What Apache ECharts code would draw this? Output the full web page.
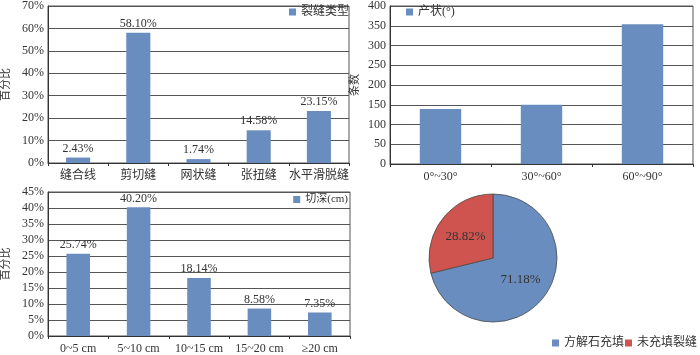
<!DOCTYPE html>
<html>
<head>
<meta charset="utf-8">
<script src="https://cdn.jsdelivr.net/npm/echarts@6/dist/echarts.min.js"></script>
<style>
  html, body { margin: 0; padding: 0; background: #fff; }
  #main { width: 700px; height: 355px; }
</style>
</head>
<body>
<div id="main"></div>
<script>
// 裂缝类型
const typeCats = ['缝合线', '剪切缝', '网状缝', '张扭缝', '水平滑脱缝'];
const typeVals = [2.43, 58.10, 1.74, 14.58, 23.15];
// 产状
const dipCats = ['0°~30°', '30°~60°', '60°~90°'];
const dipVals = [139, 150, 354];
// 切深
const depthCats = ['0~5 cm', '5~10 cm', '10~15 cm', '15~20 cm', '≥20 cm'];
const depthVals = [25.74, 40.20, 18.14, 8.58, 7.35];
// 充填
const fillNames = ['方解石充填', '未充填裂缝'];
const fillVals = [71.18, 28.82];

const blue = '#6a8dbf';
const red = '#cf5450';
const font = '"Liberation Serif", "Noto Sans CJK SC", serif';
const txt = '#333';

const chart = echarts.init(document.getElementById('main'));

function xAxisOf(idx, cats) {
  return {
    type: 'category', gridIndex: idx, data: cats,
    axisLine: { lineStyle: { color: '#333' } },
    axisTick: { show: true, length: 3, lineStyle: { color: '#333' } },
    axisLabel: { color: txt, fontFamily: font, fontSize: 12, margin: 7, interval: 0 }
  };
}
function yAxisOf(idx, max, step, fmt, name, gap) {
  return {
    type: 'value', gridIndex: idx, min: 0, max: max, interval: step,
    name: name, nameLocation: 'middle', nameGap: gap,
    nameTextStyle: { color: txt, fontFamily: font, fontSize: 11 },
    axisLine: { show: true, lineStyle: { color: '#333' } },
    axisTick: { show: false },
    axisLabel: { color: txt, fontFamily: font, fontSize: 12, margin: 4, formatter: fmt },
    splitLine: { lineStyle: { color: '#555', width: 1 } }
  };
}
const legendBase = {
  itemWidth: 7, itemHeight: 7, icon: 'rect', padding: 0,
  itemStyle: { borderWidth: 0 },
  textStyle: { color: txt, fontFamily: font, fontSize: 12 }
};

chart.setOption({
  animation: false,
  grid: [
    { left: 41, top: 2, width: 308, height: 161, show: true, borderColor: '#555', borderWidth: 1 },
    { left: 390, top: 2, width: 303, height: 162, show: true, borderColor: '#555', borderWidth: 1 },
    { left: 41, top: 192, width: 309, height: 149, show: true, borderColor: '#555', borderWidth: 1 }
  ],
  xAxis: [xAxisOf(0, typeCats), xAxisOf(1, dipCats), xAxisOf(2, depthCats)],
  yAxis: [
    yAxisOf(0, 70, 10, '{value}%', '百分比', 36),
    yAxisOf(1, 400, 50, '{value}', '条数', 29),
    yAxisOf(2, 45, 5, '{value}%', '百分比', 36)
  ],
  legend: [
    Object.assign({}, legendBase, { data: ['裂缝类型'], left: 289, top: 6 }),
    Object.assign({}, legendBase, { data: ['产状(°)'], left: 406, top: 6 }),
    Object.assign({}, legendBase, { data: ['切深(cm)'], right: 352, top: 194,
      textStyle: { color: txt, fontFamily: font, fontSize: 11 } }),
    Object.assign({}, legendBase, { data: [fillNames[0]], left: 552, top: 337 }),
    Object.assign({}, legendBase, { data: [fillNames[1]], left: 625, top: 337 })
  ],
  series: [
    {
      name: '裂缝类型', type: 'bar', xAxisIndex: 0, yAxisIndex: 0, data: typeVals,
      barWidth: '40%', itemStyle: { color: blue },
      label: { show: true, position: 'top', distance: 3, color: txt, fontFamily: font, fontSize: 12,
        formatter: p => p.value.toFixed(2) + '%' }
    },
    {
      name: '产状(°)', type: 'bar', xAxisIndex: 1, yAxisIndex: 1, data: dipVals,
      barWidth: '41%', itemStyle: { color: blue }
    },
    {
      name: '切深(cm)', type: 'bar', xAxisIndex: 2, yAxisIndex: 2, data: depthVals,
      barWidth: '39%', itemStyle: { color: blue },
      label: { show: true, position: 'top', distance: 3, color: txt, fontFamily: font, fontSize: 12,
        formatter: p => p.value.toFixed(2) + '%' }
    },
    {
      type: 'pie', center: [493, 258], radius: 64, startAngle: 90, clockwise: true,
      data: fillNames.map((n, i) => ({ name: n, value: fillVals[i], itemStyle: { color: i === 0 ? blue : red } })),
      itemStyle: { borderColor: '#4a4a4a', borderWidth: 0.8 },
      label: { show: true, position: 'inside', color: txt, fontFamily: font, fontSize: 13,
        formatter: p => p.value.toFixed(2) + '%' },
      labelLine: { show: false }
    }
  ]
});
</script>
</body>
</html>
